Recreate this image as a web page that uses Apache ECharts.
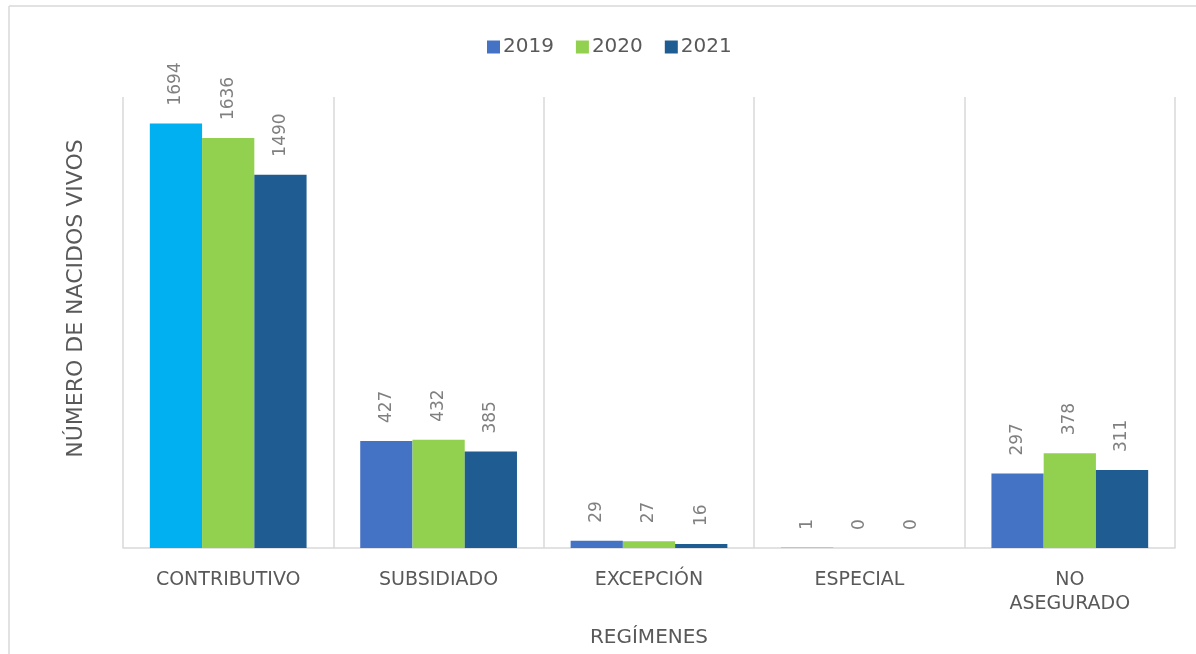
<!DOCTYPE html>
<html>
<head>
<meta charset="utf-8">
<script src="https://cdn.jsdelivr.net/npm/echarts@6/dist/echarts.min.js"></script>
<style>
  html, body { margin: 0; padding: 0; background: #fff; }
  #chart { width: 1196px; height: 654px; }
</style>
</head>
<body>
<div id="chart"></div>
<script>
  // datos
  var regimenes = ['CONTRIBUTIVO', 'SUBSIDIADO', 'EXCEPCIÓN', 'ESPECIAL', 'NO\nASEGURADO'];
  var anios = ['2019', '2020', '2021'];
  var v2019 = [1694, 427, 29, 1, 297];
  var v2020 = [1636, 432, 27, 0, 378];
  var v2021 = [1490, 385, 16, 0, 311];

  var colores = ['#4472C4', '#92D050', '#1F5C91'];
  var fuente = '"DejaVu Sans", sans-serif';

  function serie(nombre, datos, color, idx) {
    return {
      name: nombre,
      type: 'bar',
      barGap: '0%',
      barCategoryGap: '25.5%',
      itemStyle: { color: color },
      label: {
        show: true,
        position: 'top',
        rotate: 90,
        align: 'left',
        verticalAlign: 'middle',
        distance: 18,
        color: '#808080',
        fontSize: 17,
        fontFamily: fuente
      },
      data: datos.map(function (v, i) {
        // la primera barra de 2019 va en celeste
        if (idx === 0 && i === 0) return { value: v, itemStyle: { color: '#00B0F0' } };
        return v;
      })
    };
  }

  var myChart = echarts.init(document.getElementById('chart'));
  myChart.setOption({
    animation: false,
    graphic: [
      { type: 'line', shape: { x1: 9, y1: 6, x2: 1196, y2: 6 }, style: { stroke: '#d9d9d9', lineWidth: 1.5 } },
      { type: 'line', shape: { x1: 9, y1: 6, x2: 9, y2: 654 }, style: { stroke: '#d9d9d9', lineWidth: 1.5 } }
    ],
    legend: {
      top: 32,
      left: 482,
      itemWidth: 13,
      itemHeight: 13,
      itemGap: 22,
      icon: 'rect',
      textStyle: { color: '#595959', fontSize: 20, fontFamily: fuente, padding: [0, 0, 0, -2] },
      data: anios
    },
    grid: { left: 123, right: 21, top: 97, bottom: 106, outerBoundsMode: 'none' },
    xAxis: {
      type: 'category',
      data: regimenes,
      name: 'REGÍMENES',
      nameLocation: 'middle',
      nameGap: 80,
      nameTextStyle: { color: '#595959', fontSize: 20, fontFamily: fuente },
      axisLine: { lineStyle: { color: '#d9d9d9', width: 1.5 } },
      axisTick: { show: false },
      splitLine: { show: true, lineStyle: { color: '#d9d9d9', width: 1.5 } },
      axisLabel: { color: '#595959', fontSize: 19, fontFamily: fuente, margin: 20, lineHeight: 24 }
    },
    yAxis: {
      type: 'value',
      min: 0,
      max: 1800,
      name: 'NÚMERO DE NACIDOS VIVOS',
      nameLocation: 'middle',
      nameGap: 36,
      nameTextStyle: { color: '#595959', fontSize: 22, fontFamily: fuente, padding: [0, 0, 0, 48] },
      axisLabel: { show: false },
      axisLine: { show: false },
      axisTick: { show: false },
      splitLine: { show: false }
    },
    series: [
      serie('2019', v2019, colores[0], 0),
      serie('2020', v2020, colores[1], 1),
      serie('2021', v2021, colores[2], 2)
    ]
  });
</script>
</body>
</html>
